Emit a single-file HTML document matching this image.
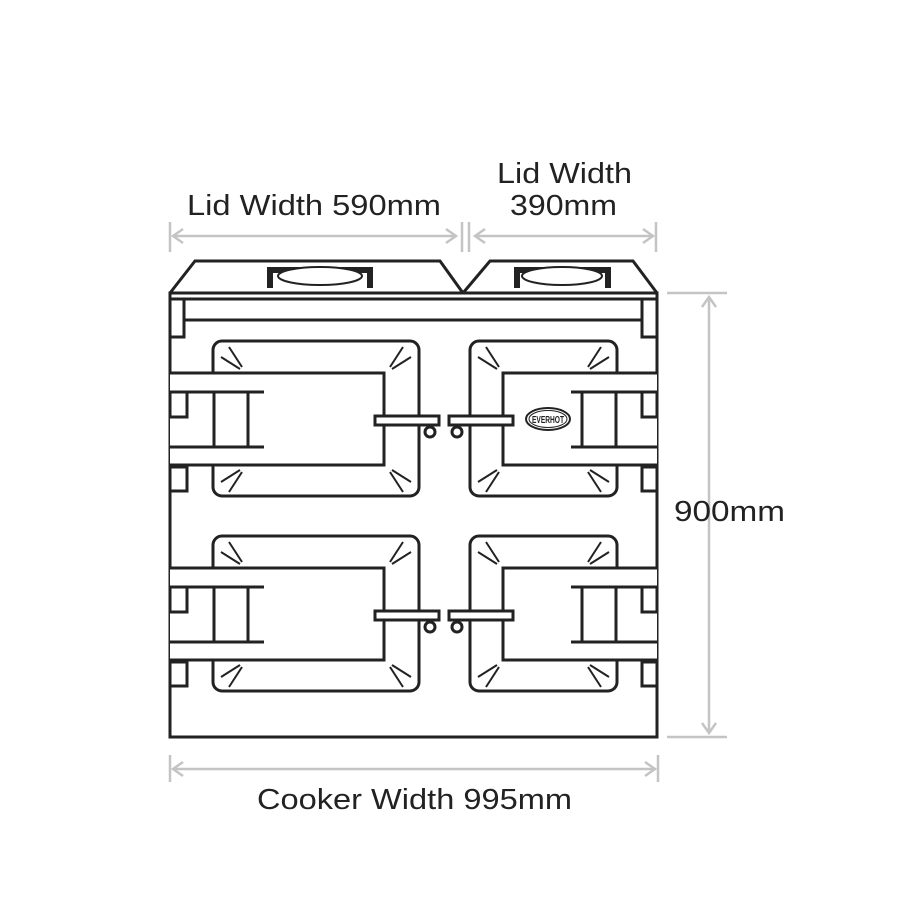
<!DOCTYPE html>
<html><head><meta charset="utf-8"><style>
html,body{margin:0;padding:0;background:#fff;width:900px;height:900px;overflow:hidden}
text{font-family:"Liberation Sans",sans-serif;font-size:29px;fill:#222}
</style></head><body>
<svg width="900" height="900" viewBox="0 0 900 900" xmlns="http://www.w3.org/2000/svg">
<defs>
<g id="leftdoor" stroke="#222" stroke-width="3" fill="none">
  <rect x="213" y="341" width="206" height="155" rx="9" fill="#fff"/>
  <path d="M170 373 H384 V465 H170" fill="#fff"/>
  <path d="M170 392 H264 M170 447 H264 M214 392 V447 M248 392 V447"/>
  <rect x="170" y="392" width="17" height="25" fill="#fff"/>
  <rect x="170" y="467" width="17" height="24" fill="#fff"/>
  <rect x="375" y="416" width="64" height="9" fill="#fff"/>
  <circle cx="430" cy="432" r="5" fill="#fff"/>
  <g stroke-width="2">
    <path d="M221 357 L240 369 M229 347 L242 367"/>
    <path d="M411 357 L392 369 M403 347 L390 367"/>
    <path d="M221 482 L240 470 M229 492 L242 472"/>
    <path d="M411 482 L392 470 M403 492 L390 472"/>
  </g>
</g>
<g id="rightdoor" stroke="#222" stroke-width="3" fill="none">
  <rect x="470" y="341" width="147" height="155" rx="9" fill="#fff"/>
  <path d="M657 373 H503 V465 H657" fill="#fff"/>
  <path d="M571 392 H657 M571 447 H657 M582 392 V447 M616 392 V447"/>
  <rect x="642" y="392" width="15" height="25" fill="#fff"/>
  <rect x="642" y="467" width="15" height="24" fill="#fff"/>
  <rect x="449" y="416" width="64" height="9" fill="#fff"/>
  <circle cx="457" cy="432" r="5" fill="#fff"/>
  <g stroke-width="2">
    <path d="M478 357 L497 369 M486 347 L499 367"/>
    <path d="M609 357 L590 369 M601 347 L588 367"/>
    <path d="M478 482 L497 470 M486 492 L499 472"/>
    <path d="M609 482 L590 470 M601 492 L588 472"/>
  </g>
</g>
</defs>

<g stroke="#c4c4c4" stroke-width="2.5" fill="none">
  <path d="M170 222 V252 M462 222 V252 M469 222 V252 M656 222 V252"/>
  <path d="M173 236 H456 M475 236 H653"/>
  <path d="M183 229 L173 236 L183 243 M446 229 L456 236 L446 243"/>
  <path d="M485 229 L475 236 L485 243 M643 229 L653 236 L643 243"/>
  <path d="M667 293 H727 M667 737 H727 M709 297 V733"/>
  <path d="M702 307 L709 297 L716 307 M702 723 L709 733 L716 723"/>
  <path d="M170 755 V782 M658 755 V782 M173 769 H655"/>
  <path d="M183 762 L173 769 L183 776 M645 762 L655 769 L645 776"/>
</g>

<g stroke="#222" stroke-width="3" fill="#fff">
  <path d="M170 293 L195 261 H440 L463 293 L490 261 H633 L657 293"/>
  <rect x="170" y="293" width="487" height="444"/>
  <path d="M170 299 H657" fill="none"/>
  <rect x="184" y="299" width="458" height="21"/>
  <rect x="170" y="299" width="14" height="38"/>
  <rect x="642" y="299" width="15" height="38"/>
</g>
<g stroke="#222" fill="none">
  <path d="M270 288 V270 H370 V288" stroke-width="6"/>
  <ellipse cx="320" cy="276" rx="42" ry="9" fill="#fff" stroke-width="2"/>
  <path d="M517 288 V270 H608 V288" stroke-width="6"/>
  <ellipse cx="562" cy="276" rx="40" ry="9" fill="#fff" stroke-width="2"/>
</g>

<use href="#leftdoor"/>
<use href="#rightdoor"/>
<use href="#leftdoor" transform="translate(0,195)"/>
<use href="#rightdoor" transform="translate(0,195)"/>

<ellipse cx="548" cy="419" rx="22" ry="11" fill="#fff" stroke="#222" stroke-width="2"/>
<ellipse cx="548" cy="419" rx="19" ry="8.5" fill="none" stroke="#222" stroke-width="1"/>
<text x="548" y="423" text-anchor="middle" style="font-size:10px;font-weight:bold" textLength="32" lengthAdjust="spacingAndGlyphs">EVERHOT</text>

<text x="187" y="215" textLength="254" lengthAdjust="spacingAndGlyphs">Lid Width 590mm</text>
<text x="497" y="183" textLength="135" lengthAdjust="spacingAndGlyphs">Lid Width</text>
<text x="510" y="215" textLength="107" lengthAdjust="spacingAndGlyphs">390mm</text>
<text x="674" y="521" textLength="111" lengthAdjust="spacingAndGlyphs">900mm</text>
<text x="257" y="809" textLength="315" lengthAdjust="spacingAndGlyphs">Cooker Width 995mm</text>
</svg>
</body></html>
